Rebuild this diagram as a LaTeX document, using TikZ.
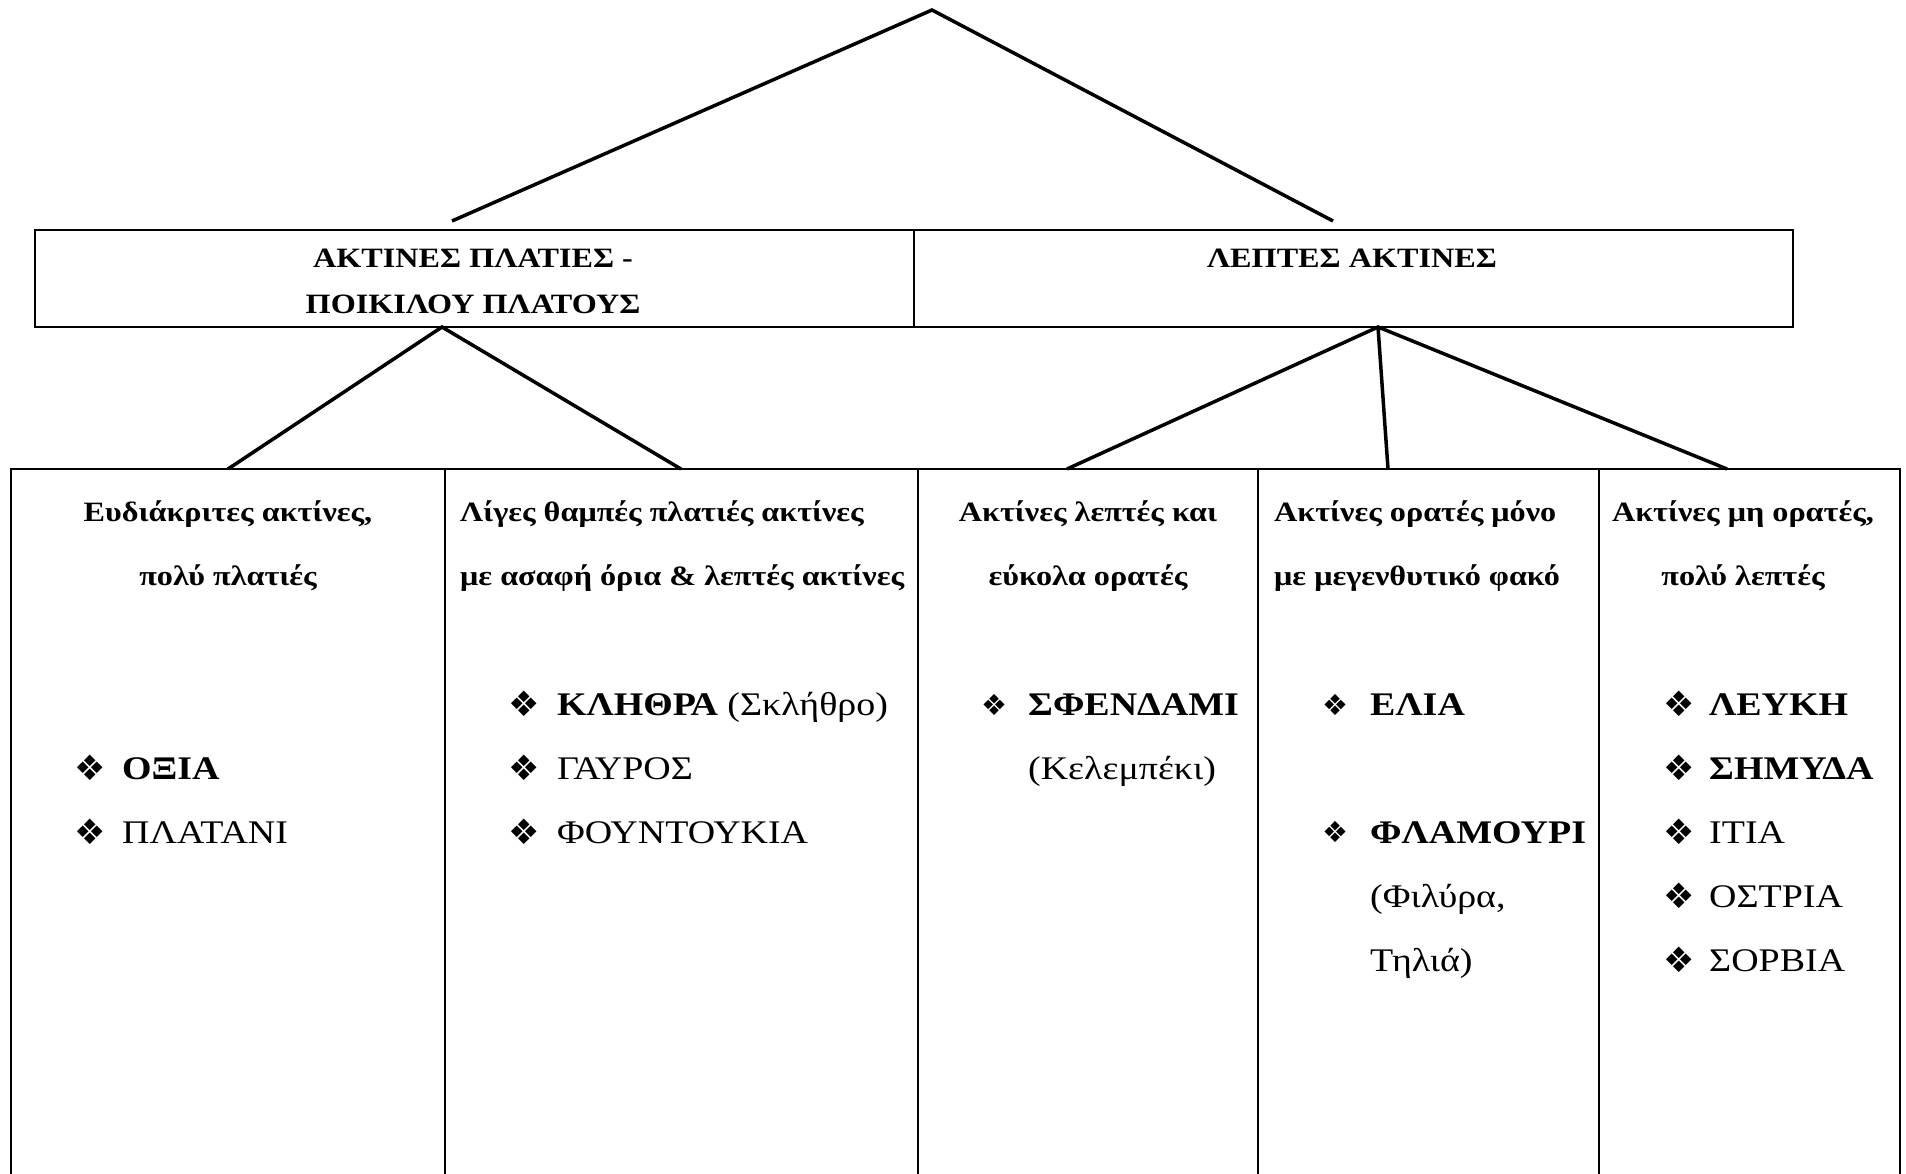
\documentclass[tikz,border=0pt]{standalone}
\usepackage{fontspec}
\setmainfont{Liberation Serif}[FakeStretch=1.15]
\newfontfamily\symfont{DejaVu Sans}
\begin{document}
\begin{tikzpicture}[x=1pt,y=-1pt,
  conn/.style={line width=3.5pt},
  boxline/.style={line width=2pt},
  tabline/.style={line width=1.5pt},
  hdr/.style={font=\fontsize{28}{28}\selectfont\bfseries, anchor=base, inner sep=0pt},
  colhdr/.style={font=\fontsize{28}{28}\selectfont\bfseries, anchor=base, inner sep=0pt},
  colhdrw/.style={colhdr, anchor=base west},
  item/.style={font=\fontsize{33}{33}\selectfont, anchor=base west, inner sep=0pt},
  bigbul/.style={font=\symfont\fontsize{35}{35}\selectfont, anchor=center, inner sep=0pt},
  smallbul/.style={font=\symfont\fontsize{29}{29}\selectfont, anchor=center, inner sep=0pt},
]
\useasboundingbox (0,0) rectangle (1906,1174);
% upper boxes
\node[draw, boxline, anchor=north west, minimum width=879pt, minimum height=97pt, inner sep=0pt] (boxL) at (34,229) {};
\node[draw, boxline, anchor=north west, minimum width=879pt, minimum height=97pt, inner sep=0pt] (boxR) at (913,229) {};
\node[hdr] (tL1) at (473,268) {ΑΚΤΙΝΕΣ ΠΛΑΤΙΕΣ -};
\node[hdr] (tL2) at (473,314) {ΠΟΙΚΙΛΟΥ ΠΛΑΤΟΥΣ};
\node[hdr] (tR1) at (1352,268) {ΛΕΠΤΕΣ ΑΚΤΙΝΕΣ};
% lower table
\draw[tabline] (11,1174) -- (11,469) -- (1900,469) -- (1900,1174);
\foreach \x in {445,918,1258,1599} \draw[tabline] (\x,469) -- (\x,1174);
% connectors
\coordinate (apex) at (932,10);
\coordinate (lt) at (452,221);
\coordinate (rt) at (1333,221);
\coordinate (jL) at (442,327);
\coordinate (jR) at (1378,327);
\coordinate (c1) at (228,469);
\coordinate (c2) at (681,469);
\coordinate (c3) at (1067,469);
\coordinate (c4) at (1388,469);
\coordinate (c5) at (1727,469);
\draw[conn] (lt) -- (apex) -- (rt);
\draw[conn] (c1) -- (jL) -- (c2);
\draw[conn] (c3) -- (jR) -- (c5);
\draw[conn] (jR) -- (c4);
% column headers
\node[colhdr] (h1a) at (228,521) {Ευδιάκριτες ακτίνες,};
\node[colhdr] (h1b) at (228,585) {πολύ πλατιές};
\node[colhdrw] (h2a) at (460,521) {Λίγες θαμπές πλατιές ακτίνες};
\node[colhdrw] (h2b) at (460,585) {με ασαφή όρια \& λεπτές ακτίνες};
\node[colhdr] (h3a) at (1088,521) {Ακτίνες λεπτές και};
\node[colhdr] (h3b) at (1088,585) {εύκολα ορατές};
\node[colhdrw] (h4a) at (1274,521) {Ακτίνες ορατές μόνο};
\node[colhdrw] (h4b) at (1274,585) {με μεγενθυτικό φακό};
\node[colhdr] (h5a) at (1743,521) {Ακτίνες μη ορατές,};
\node[colhdr] (h5b) at (1743,585) {πολύ λεπτές};
% column 1
\node[bigbul] (b11) at (90,768) {❖};
\node[item] (i11) at (122,779) {\bfseries ΟΞΙΑ};
\node[bigbul] (b12) at (90,832) {❖};
\node[item] (i12) at (122,843) {ΠΛΑΤΑΝΙ};
% column 2
\node[bigbul] (b21) at (524,704) {❖};
\node[item] (i21) at (557,715) {\bfseries ΚΛΗΘΡΑ \mdseries(Σκλήθρο)};
\node[bigbul] (b22) at (524,768) {❖};
\node[item] (i22) at (557,779) {ΓΑΥΡΟΣ};
\node[bigbul] (b23) at (524,832) {❖};
\node[item] (i23) at (557,843) {ΦΟΥΝΤΟΥΚΙΑ};
% column 3
\node[smallbul] (b31) at (994,705) {❖};
\node[item] (i31) at (1028,715) {\bfseries ΣΦΕΝΔΑΜΙ};
\node[item] (i32) at (1028,779) {(Κελεμπέκι)};
% column 4
\node[smallbul] (b41) at (1335,705) {❖};
\node[item] (i41) at (1370,715) {\bfseries ΕΛΙΑ};
\node[smallbul] (b42) at (1335,832) {❖};
\node[item] (i42) at (1370,843) {\bfseries ΦΛΑΜΟΥΡΙ};
\node[item] (i43) at (1370,907) {(Φιλύρα,};
\node[item] (i44) at (1370,971) {Τηλιά)};
% column 5
\node[bigbul] (b51) at (1679,704) {❖};
\node[item] (i51) at (1709,715) {\bfseries ΛΕΥΚΗ};
\node[bigbul] (b52) at (1679,768) {❖};
\node[item] (i52) at (1709,779) {\bfseries ΣΗΜΥΔΑ};
\node[bigbul] (b53) at (1679,832) {❖};
\node[item] (i53) at (1709,843) {ΙΤΙΑ};
\node[bigbul] (b54) at (1679,896) {❖};
\node[item] (i54) at (1709,907) {ΟΣΤΡΙΑ};
\node[bigbul] (b55) at (1679,960) {❖};
\node[item] (i55) at (1709,971) {ΣΟΡΒΙΑ};
\end{tikzpicture}
\end{document}
